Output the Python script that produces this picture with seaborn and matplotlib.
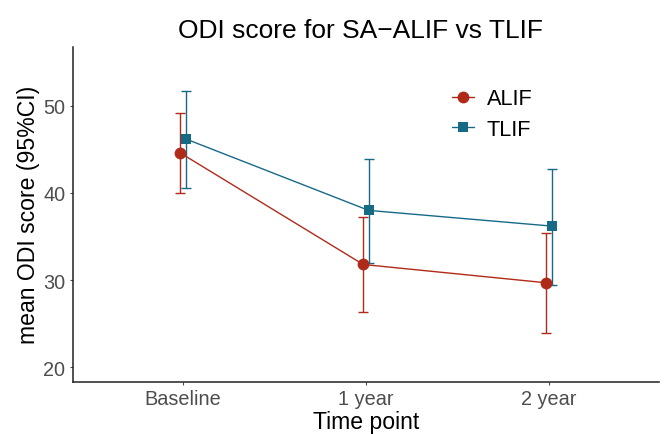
import numpy as np
import pandas as pd
import seaborn as sns
import matplotlib.pyplot as plt
from matplotlib.lines import Line2D

# data
time_points = ["Baseline", "1 year", "2 year"]
alif_mean = [44.6, 31.8, 29.7]
alif_low = [40.0, 26.4, 23.9]
alif_high = [49.2, 37.3, 35.4]
tlif_mean = [46.2, 38.0, 36.2]
tlif_low = [40.6, 32.0, 29.4]
tlif_high = [51.7, 43.9, 42.8]

groups = ["ALIF", "TLIF"]
colors = {"ALIF": "#B02A1A", "TLIF": "#176A86"}
markers = {"ALIF": "o", "TLIF": "s"}
msize = {"ALIF": 8.5, "TLIF": 7.5}
dodge = {"ALIF": -0.015, "TLIF": 0.015}

rows = []
for g, m, lo, hi in [("ALIF", alif_mean, alif_low, alif_high),
                     ("TLIF", tlif_mean, tlif_low, tlif_high)]:
    for i, t in enumerate(time_points):
        rows.append({"group": g, "pos": i + 1 + dodge[g], "mean": m[i],
                     "low": lo[i], "high": hi[i]})
df = pd.DataFrame(rows)

sns.set_style("white")
plt.rcParams["font.family"] = ["Liberation Sans", "DejaVu Sans"]
plt.rcParams["text.color"] = "black"

fig = plt.figure(figsize=(6.71, 4.35), dpi=100)
ax = fig.add_axes([0.1088, 0.120, 0.8732, 0.770])

for g in groups:
    d = df[df["group"] == g]
    ax.errorbar(d["pos"], d["mean"],
                yerr=[d["mean"] - d["low"], d["high"] - d["mean"]],
                fmt="none", ecolor=colors[g], elinewidth=1.0,
                capsize=3.3, capthick=1.0, zorder=2)
    sns.lineplot(data=d, x="pos", y="mean", color=colors[g], linewidth=1.0,
                 marker=markers[g], markersize=msize[g], markeredgewidth=0,
                 ax=ax, zorder=3, legend=False)

ax.set_xlim(0.4, 3.6)
ax.set_ylim(18.35, 56.75)
ax.set_xticks([1, 2, 3])
ax.set_xticklabels(time_points)
ax.set_yticks([20, 30, 40, 50])
ax.tick_params(axis="both", labelsize=14.3, colors="#4D4D4D", length=2.5,
               width=0.8, direction="out", left=True, bottom=True, pad=3)
for s in ["top", "right"]:
    ax.spines[s].set_visible(False)
for s in ["left", "bottom"]:
    ax.spines[s].set_color("#222222")
    ax.spines[s].set_linewidth(1.1)

ax.set_xlabel("Time point", fontsize=16.6, color="black", labelpad=1)
ax.set_ylabel("mean ODI score (95%CI)", fontsize=16.6, color="black", labelpad=2)
ax.set_title("ODI score for SA\u2212ALIF vs TLIF", fontsize=19, color="black",
             pad=7, x=0.49)

handles = [Line2D([0], [0], color=colors[g], marker=markers[g], markersize=msize[g],
                  markeredgewidth=0, linewidth=1.0) for g in groups]
leg = ax.legend(handles, groups, loc="upper left", bbox_to_anchor=(0.613, 0.935),
                frameon=False, fontsize=15.7, handlelength=1.0, handletextpad=0.6,
                labelspacing=0.45)
for t in leg.get_texts():
    t.set_color("black")

fig.savefig("out.png", dpi=100)
